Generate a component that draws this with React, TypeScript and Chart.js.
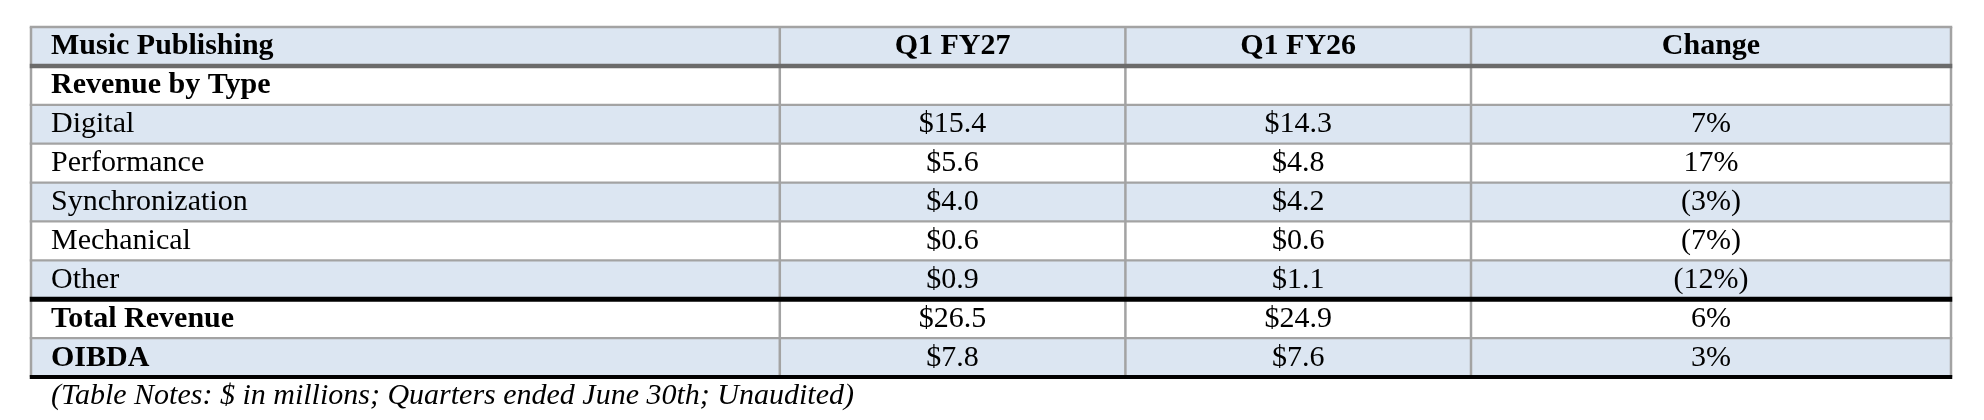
import React, { useEffect, useRef } from 'react';
import { Chart, registerables } from 'chart.js';

Chart.register(...registerables);

// ---- data ----
const headerLabels = ['Music Publishing', 'Q1 FY27', 'Q1 FY26', 'Change'];
const rowLabels = [
  'Revenue by Type',
  'Digital',
  'Performance',
  'Synchronization',
  'Mechanical',
  'Other',
  'Total Revenue',
  'OIBDA',
];
const q1FY27: (number | null)[] = [null, 15.4, 5.6, 4.0, 0.6, 0.9, 26.5, 7.8];
const q1FY26: (number | null)[] = [null, 14.3, 4.8, 4.2, 0.6, 1.1, 24.9, 7.6];
const changePct: (number | null)[] = [null, 7, 17, -3, -7, -12, 6, 3];
const boldRowLabels = ['Revenue by Type', 'Total Revenue', 'OIBDA'];
const noteText = '(Table Notes: $ in millions; Quarters ended June 30th; Unaudited)';

// ---- layout / style ----
const columnEdges = [0, 39, 57, 75, 100];
const BLUE = '#dce6f2';
const WHITE = '#ffffff';
const GRID = '#a3a3a3';
const FONT = '"Liberation Serif", "Times New Roman", serif';
const FONT_SIZE = 30;

const fmtMoney = (v: number | null) => (v === null ? '' : `$${v.toFixed(1)}`);
const fmtPct = (v: number | null) => (v === null ? '' : v < 0 ? `(${-v}%)` : `${v}%`);

const categories = [headerLabels[0], ...rowLabels];
const cellText: string[][] = [
  headerLabels,
  ...rowLabels.map((lab, i) => [lab, fmtMoney(q1FY27[i]), fmtMoney(q1FY26[i]), fmtPct(changePct[i])]),
];

const hLineStyles = (k: number) => {
  if (k === 0) return { color: GRID, width: 2.5 };
  if (k === 1) return { color: '#6b6b6b', width: 4.5 };
  if (k === 7) return { color: '#000000', width: 5 };
  if (k === 9) return { color: '#000000', width: 4 };
  return { color: GRID, width: 2.2 };
};

const tablePlugin = {
  id: 'tableDraw',
  afterDatasetsDraw(chart: any) {
    const ctx: CanvasRenderingContext2D = chart.ctx;
    const metas = [0, 1, 2, 3].map((i) => chart.getDatasetMeta(i));
    const firstCol = metas[0].data as any[];
    const bounds: number[] = [];
    firstCol.forEach((el: any, r: number) => {
      if (r === 0) bounds.push(el.y - el.height / 2);
      bounds.push(el.y + el.height / 2);
    });
    const xs: number[] = metas.map((m: any) => Math.min(m.data[0].x, m.data[0].base));
    const lastEl: any = metas[3].data[0];
    xs.push(Math.max(lastEl.x, lastEl.base));
    const top = bounds[0];
    const bottom = bounds[bounds.length - 1];

    ctx.save();
    // vertical lines
    ctx.strokeStyle = GRID;
    ctx.lineWidth = 2.5;
    xs.forEach((x) => {
      ctx.beginPath();
      ctx.moveTo(x, top);
      ctx.lineTo(x, bottom);
      ctx.stroke();
    });
    // horizontal lines
    bounds.forEach((y, k) => {
      const s = hLineStyles(k);
      ctx.strokeStyle = s.color;
      ctx.lineWidth = s.width;
      ctx.beginPath();
      ctx.moveTo(xs[0] - 1.25, y);
      ctx.lineTo(xs[xs.length - 1] + 1.25, y);
      ctx.stroke();
    });

    // text
    ctx.fillStyle = '#000000';
    ctx.textBaseline = 'alphabetic';
    cellText.forEach((row, r) => {
      row.forEach((txt, c) => {
        if (!txt) return;
        const el: any = metas[c].data[r];
        const left = Math.min(el.x, el.base);
        const right = Math.max(el.x, el.base);
        const bold = r === 0 || (c === 0 && boldRowLabels.includes(txt));
        ctx.font = `${bold ? 'bold ' : ''}${FONT_SIZE}px ${FONT}`;
        const y = el.y + 8;
        if (c === 0) {
          ctx.textAlign = 'left';
          ctx.fillText(txt, left + 20, y);
        } else {
          ctx.textAlign = 'center';
          ctx.fillText(txt, (left + right) / 2, y);
        }
      });
    });

    // note
    ctx.font = `italic ${FONT_SIZE}px ${FONT}`;
    ctx.textAlign = 'left';
    ctx.fillText(noteText, xs[0] + 20, bottom + 27);
    ctx.restore();
  },
};

export default function App() {
  const ref = useRef<HTMLCanvasElement | null>(null);
  useEffect(() => {
    if (!ref.current) return;
    const datasets = [0, 1, 2, 3].map((c) => ({
      label: headerLabels[c],
      data: categories.map(() => [columnEdges[c], columnEdges[c + 1]] as [number, number]),
      backgroundColor: categories.map((_, r) => (r % 2 === 0 ? BLUE : WHITE)),
      borderWidth: 0,
      grouped: false,
      barPercentage: 1,
      categoryPercentage: 1,
    }));
    const chart = new Chart(ref.current, {
      type: 'bar',
      data: { labels: categories, datasets: datasets as any },
      options: {
        indexAxis: 'y',
        animation: false,
        responsive: false,
        devicePixelRatio: 1,
        events: [],
        layout: { padding: { left: 31, right: 33, top: 27, bottom: 43 } },
        plugins: { legend: { display: false }, tooltip: { enabled: false }, title: { display: false } },
        scales: {
          x: { type: 'linear', min: 0, max: 100, display: false },
          y: { type: 'category', display: false },
        },
      },
      plugins: [tablePlugin],
    });
    return () => chart.destroy();
  }, []);
  return (
    <div style={{ position: 'fixed', left: 0, top: 0, width: 1984, height: 420, background: '#fff' }}>
      <canvas ref={ref} width={1984} height={420} style={{ display: 'block', width: 1984, height: 420 }} />
    </div>
  );
}
